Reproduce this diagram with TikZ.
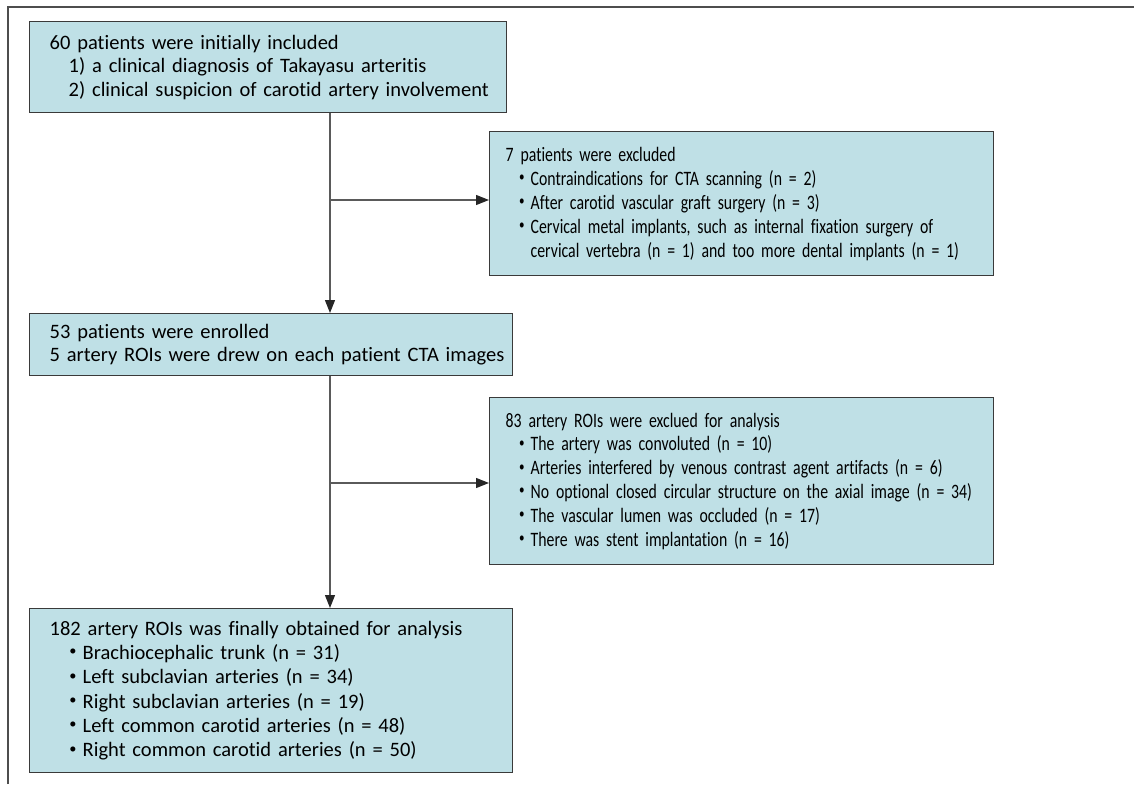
\documentclass[tikz,border=0pt]{standalone}
\usepackage{fontspec}
\setmainfont{Carlito}[RawFeature=-liga]
\newfontfamily\narrowf{Carlito}[FakeStretch=0.77,RawFeature=-liga]
\usetikzlibrary{arrows.meta}
\definecolor{boxfill}{HTML}{BFE0E6}
\definecolor{boxline}{HTML}{3A3A3A}
\definecolor{arrline}{HTML}{5A5A5A}
\newcommand{\itm}[1]{\makebox[#1][r]{\raisebox{0.18em}{\scalebox{0.7}{\textbullet}}\hspace{0.3em}}}
\hbadness=10000 \hfuzz=200pt
\begin{document}
\begin{tikzpicture}[x=1pt,y=-1pt,
  flowbox/.style={draw=boxline, line width=1.4pt, fill=boxfill, anchor=north west, align=left,
    inner ysep=0pt, font=\fontsize{20.5}{23.4}\selectfont},
  arr/.style={draw=arrline, line width=1.3pt, -{Triangle[length=13pt,width=10pt,color=black!85]}}]
\useasboundingbox (0,0) rectangle (1134,784);
\draw[boxline!90, line width=1.6pt] (8,784) -- (8,7) -- (1134,7);
% boxes
\node[flowbox, inner xsep=20pt, text width=437pt, minimum height=91pt] (b1) at (29,21)
 {\mbox{60 patients were initially included}\\
  \mbox{\hspace*{19pt}1) a clinical diagnosis of Takayasu arteritis}\\
  \mbox{\hspace*{19pt}2) clinical suspicion of carotid artery involvement}};
\node[flowbox, inner xsep=16pt, text width=472pt, minimum height=144pt,
  font=\fontsize{20.5}{24}\narrowf] (b2) at (489,131)
 {7 patients were excluded\\
  \mbox{\itm{25pt}Contraindications for CTA scanning (n = 2)}\\
  \mbox{\itm{25pt}After carotid vascular graft surgery (n = 3)}\\
  \mbox{\itm{25pt}Cervical metal implants, such as internal fixation surgery of}\\
  \mbox{\hspace*{25pt}cervical vertebra (n = 1) and too more dental implants (n = 1)}};
\node[flowbox, inner xsep=20pt, text width=443pt, minimum height=62pt] (b3) at (29,313)
 {\mbox{53 patients were enrolled}\\
  \mbox{5 artery ROIs were drew on each patient CTA images}};
\node[flowbox, inner xsep=16pt, text width=472pt, minimum height=167pt,
  font=\fontsize{20.5}{23.8}\narrowf] (b4) at (489,397)
 {\mbox{83 artery ROIs were exclued for analysis}\\
  \mbox{\itm{25pt}The artery was convoluted (n = 10)}\\
  \mbox{\itm{25pt}Arteries interfered by venous contrast agent artifacts (n = 6)}\\
  \mbox{\itm{25pt}No optional closed circular structure on the axial image (n = 34)}\\
  \mbox{\itm{25pt}The vascular lumen was occluded (n = 17)}\\
  \mbox{\itm{25pt}There was stent implantation (n = 16)}};
\node[flowbox, inner xsep=20pt, text width=443pt, minimum height=164pt,
  font=\fontsize{20.5}{24.3}\selectfont] (b5) at (29,608)
 {\mbox{182 artery ROIs was finally obtained for analysis}\\
  \mbox{\itm{33pt}Brachiocephalic trunk (n = 31)}\\
  \mbox{\itm{33pt}Left subclavian arteries (n = 34)}\\
  \mbox{\itm{33pt}Right subclavian arteries (n = 19)}\\
  \mbox{\itm{33pt}Left common carotid arteries (n = 48)}\\
  \mbox{\itm{33pt}Right common carotid arteries (n = 50)}};
% junctions
\coordinate (j1) at (330,200);
\coordinate (j2) at (330,483);
\draw[arr] (b1.south -| j1) -- (b3.north -| j1);
\draw[arr] (j1) -- (j1 -| b2.west);
\draw[arr] (b3.south -| j2) -- (b5.north -| j2);
\draw[arr] (j2) -- (j2 -| b4.west);
\end{tikzpicture}
\end{document}
